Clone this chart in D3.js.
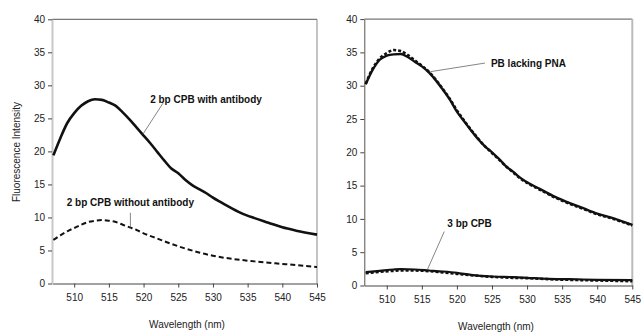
<!DOCTYPE html>
<html><head><meta charset="utf-8">
<script src="https://cdn.jsdelivr.net/npm/d3@7"></script>
<style>body{margin:0;background:#fff}svg{display:block}text{font-family:"Liberation Sans",Arial,sans-serif}</style>
</head><body><svg id="c" width="641" height="332"></svg>
<script>
const xTicks = [510,515,520,525,530,535,540,545];
const yTicks = [0,5,10,15,20,25,30,35,40];
const xDomain = [506.8, 545];
const yDomain = [0, 40];

// Left panel: 2 bp CPB
const leftWithWl  = [507,508,509,510,511,512,513,514,515,516,517,518,519,520,521,522,523,524,525,526,527,528,529,530,532,534,536,538,540,542,545];
const leftWithVal = [19.4,22.0,24.3,25.8,26.9,27.6,27.9,27.8,27.4,26.9,25.9,24.8,23.6,22.4,21.2,19.9,18.6,17.4,16.7,15.7,14.9,14.3,13.7,13.0,11.8,10.7,9.9,9.2,8.5,8.0,7.4];
const leftWithoutWl  = [507,508,509,510,511,512,513,514,515,516,517,518,519,520,522,524,526,528,530,533,536,539,542,545];
const leftWithoutVal = [6.6,7.3,7.9,8.4,8.9,9.3,9.5,9.6,9.5,9.3,8.9,8.5,8.1,7.6,6.8,6.0,5.3,4.7,4.2,3.7,3.35,3.05,2.8,2.5];

// Right panel
const pbWl     = [507,508,509,510,511,512,513,514,515,516,517,518,519,520,521,522,523,524,525,526,527,528,529,530,532,534,536,538,540,542,545];
const pbSolid  = [30.2,32.4,33.9,34.5,34.7,34.75,34.3,33.6,32.9,32.0,30.8,29.4,27.9,26.1,24.7,23.3,22.0,20.9,20.0,19.0,17.9,17.1,16.2,15.5,14.4,13.3,12.4,11.6,10.8,10.2,9.1];
const pbDashed = [30.3,32.6,34.1,34.9,35.35,35.2,34.6,33.8,33.0,32.1,30.9,29.5,28.0,26.3,24.8,23.4,22.1,20.9,19.9,18.9,17.9,17.0,16.1,15.4,14.3,13.2,12.3,11.5,10.7,10.1,9.0];
const cpb3Wl     = [507,509,511,512,514,516,518,520,522,525,528,530,533,536,540,545];
const cpb3Solid  = [2.0,2.2,2.4,2.45,2.4,2.25,2.1,1.9,1.6,1.35,1.25,1.15,1.0,0.95,0.85,0.8];
const cpb3Dashed = [1.85,2.05,2.2,2.25,2.25,2.15,1.95,1.75,1.55,1.3,1.15,1.1,0.95,0.85,0.75,0.65];

const svg = d3.select("#c");

function panel(cfg){
  const x = d3.scaleLinear().domain(xDomain).range([cfg.x0, cfg.x1]);
  const y = d3.scaleLinear().domain(yDomain).range([cfg.y0, cfg.y1]);
  const g = svg.append("g");
  // frame
  g.append("line").attr("x1",cfg.x0).attr("x2",cfg.x1).attr("y1",cfg.y1).attr("y2",cfg.y1).attr("stroke","#555").attr("stroke-width",1);
  g.append("line").attr("x1",cfg.x1).attr("x2",cfg.x1).attr("y1",cfg.y1).attr("y2",cfg.y0).attr("stroke",cfg.rightColor).attr("stroke-width",cfg.rightW);
  // axes
  const ax = g.append("g").attr("transform",`translate(0,${cfg.y0})`)
    .call(d3.axisBottom(x).tickValues(xTicks).tickSize(4).tickPadding(6).tickSizeOuter(0));
  const ay = g.append("g").attr("transform",`translate(${cfg.x0},0)`)
    .call(d3.axisLeft(y).tickValues(yTicks).tickSize(4).tickPadding(3).tickSizeOuter(0));
  ax.select(".domain").attr("stroke","#444");
  ay.select(".domain").attr("stroke",cfg.leftColor).attr("stroke-width",cfg.leftW);
  [ax,ay].forEach(a=>{
    a.selectAll(".tick line").attr("stroke","#444");
    a.selectAll(".tick text").attr("fill","#222").style("font-size","10px").style("font-family",'"Liberation Sans",Arial,sans-serif');
  });
  // x title
  g.append("text").attr("x",cfg.titleX).attr("y",cfg.titleY).attr("text-anchor","middle")
    .style("font-size","10px").attr("fill","#222").text("Wavelength (nm)");
  const line = d3.line().x(d=>x(d[0])).y(d=>y(d[1])).curve(d3.curveMonotoneX);
  cfg.series.forEach(s=>{
    g.append("path").datum(d3.zip(s.wl,s.v)).attr("d",line).attr("fill","none")
      .attr("stroke","#111").attr("stroke-width",s.w).attr("stroke-dasharray",s.dash||null)
      .attr("stroke-linejoin","round");
  });
  cfg.notes.forEach(n=>{
    g.append("line").attr("x1",x(n.l[0])).attr("y1",y(n.l[1])).attr("x2",x(n.l[2])).attr("y2",y(n.l[3]))
      .attr("stroke","#666").attr("stroke-width",0.8);
    g.append("text").attr("x",x(n.t[0])).attr("y",y(n.t[1])).attr("text-anchor","middle")
      .attr("dominant-baseline","central").style("font-size","10px").style("font-weight","bold")
      .attr("fill","#111").text(n.text);
  });
}

panel({x0:52,x1:317,y0:283.5,y1:19.3,leftColor:"#c8c8c8",leftW:2,rightColor:"#888",rightW:1,
  titleX:187,titleY:327.5,
  series:[
    {wl:leftWithWl,v:leftWithVal,w:2.6},
    {wl:leftWithoutWl,v:leftWithoutVal,w:2,dash:"5,3"}
  ],
  notes:[
    {text:"2 bp CPB with antibody",t:[529,27.9],l:[522.8,27.3,519.9,22.6]},
    {text:"2 bp CPB without antibody",t:[518.1,12.3],l:[518.1,10.7,518.1,8.5]}
  ]});

panel({x0:364.3,x1:632.3,y0:285.5,y1:19.1,leftColor:"#555",leftW:1,rightColor:"#bbb",rightW:2,
  titleX:496,titleY:329.5,
  series:[
    {wl:pbWl,v:pbDashed,w:2.6,dash:"3,2"},
    {wl:pbWl,v:pbSolid,w:2.4},
    {wl:cpb3Wl,v:cpb3Dashed,w:2.6,dash:"3,2"},
    {wl:cpb3Wl,v:cpb3Solid,w:2.2}
  ],
  notes:[
    {text:"PB lacking PNA",t:[530.2,33.4],l:[524.0,33.4,516.2,32.1]},
    {text:"3 bp CPB",t:[521.8,9.3],l:[518.2,8.1,515.8,2.4]}
  ]});

// y title
svg.append("text").attr("transform","translate(19.5,152) rotate(-90)").attr("text-anchor","middle")
  .style("font-size","10px").attr("fill","#222").text("Fluorescence Intensity");
</script></body></html>
